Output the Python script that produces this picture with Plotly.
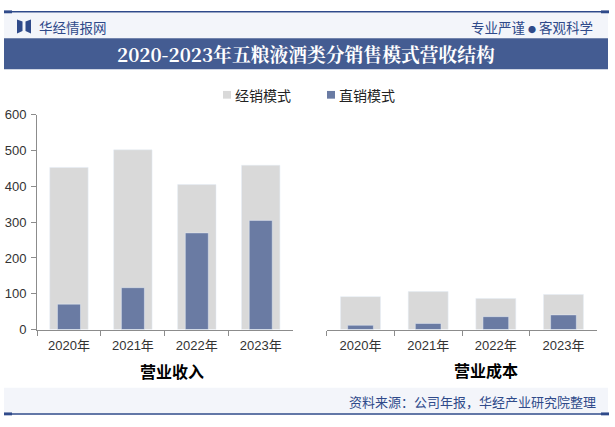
import plotly.graph_objects as go

W, H = 615, 427

years = ["2020年", "2021年", "2022年", "2023年"]
income_dist = [453, 502, 405, 459]     # 营业收入 - 经销模式
income_direct = [71, 117, 270, 305]    # 营业收入 - 直销模式
cost_dist = [92, 106, 87, 98]          # 营业成本 - 经销模式
cost_direct = [12, 17, 36, 41]         # 营业成本 - 直销模式
series_names = ["经销模式", "直销模式"]
panel_titles = ["营业收入", "营业成本"]
y_ticks = [0, 100, 200, 300, 400, 500, 600]

GRAY = "#d9d9d9"
BLUE = "#6a7ba3"
DARK = "#2f4a8a"
BAND = "#445c92"
LIGHT = "#f3f5fa"
AX = "#8c8c8c"
NUM_FONT = "Liberation Sans, Arial, Noto Sans CJK SC, sans-serif"
CJK_FONT = "Noto Sans CJK SC, Microsoft YaHei, sans-serif"


def px(x):
    return x / W


def py(y):
    return 1 - y / H


fig = go.Figure()
fig.add_trace(go.Bar(x=years, y=income_dist, name=series_names[0], marker_color=GRAY,
                     width=0.6, xaxis="x", yaxis="y", showlegend=False))
fig.add_trace(go.Bar(x=years, y=income_direct, name=series_names[1], marker_color=BLUE,
                     width=0.36, xaxis="x", yaxis="y", showlegend=False))
fig.add_trace(go.Bar(x=years, y=cost_dist, name=series_names[0], marker_color=GRAY,
                     width=0.59, xaxis="x2", yaxis="y2", showlegend=False))
fig.add_trace(go.Bar(x=years, y=cost_direct, name=series_names[1], marker_color=BLUE,
                     width=0.38, xaxis="x2", yaxis="y2", showlegend=False))

ydom = [py(334.3), py(111.7)]
xcommon = dict(type="category", showline=True, linecolor=AX, linewidth=1,
               ticks="outside", tickson="boundaries", ticklen=5, tickcolor=AX,
               tickfont=dict(family=NUM_FONT, size=13, color="#333333"),
               ticklabelstandoff=4,
               showgrid=False, zeroline=False, fixedrange=True)
fig.update_layout(
    xaxis=dict(domain=[px(37), px(292.7)], anchor="y", **xcommon),
    xaxis2=dict(domain=[px(326.7), px(597.3)], anchor="y2", **xcommon),
    yaxis=dict(domain=ydom, range=[0, 600], tickvals=y_ticks, showline=True,
               linecolor=AX, ticks="outside", ticklen=5, tickcolor=AX,
               tickfont=dict(family=NUM_FONT, size=13, color="#333333"),
               showgrid=False, zeroline=False, anchor="x", ticklabelstandoff=2,
               fixedrange=True),
    yaxis2=dict(domain=ydom, range=[0, 600], visible=False, anchor="x2", fixedrange=True),
    barmode="overlay",
    width=W, height=H, autosize=False,
    margin=dict(l=0, r=0, t=0, b=0),
    paper_bgcolor="white", plot_bgcolor="rgba(0,0,0,0)",
)

shapes = []
# header background
shapes.append(dict(type="rect", xref="paper", yref="paper", x0=px(4), x1=px(608),
                   y0=py(32), y1=py(6), fillcolor=LIGHT, line_width=0, layer="below"))
# top line + end squares
shapes.append(dict(type="line", xref="paper", yref="paper", x0=px(4), x1=px(608),
                   y0=py(5), y1=py(5), line=dict(color=DARK, width=1.5)))
for a, b in [(4, 12), (601, 609)]:
    shapes.append(dict(type="rect", xref="paper", yref="paper", x0=px(a), x1=px(b),
                       y0=py(6.5), y1=py(3.5), fillcolor=DARK, line_width=0))
# title band
shapes.append(dict(type="rect", xref="paper", yref="paper", x0=px(4), x1=px(608),
                   y0=py(64.5), y1=py(32.3), fillcolor=BAND, line_width=0, layer="below"))
# footer band
shapes.append(dict(type="rect", xref="paper", yref="paper", x0=px(4), x1=px(608),
                   y0=py(421), y1=py(394.5), fillcolor=LIGHT, line_width=0, layer="below"))
shapes.append(dict(type="line", xref="paper", yref="paper", x0=px(4), x1=px(608),
                   y0=py(421.7), y1=py(421.7), line=dict(color=DARK, width=1.5)))
for a, b in [(4, 12), (601, 609)]:
    shapes.append(dict(type="rect", xref="paper", yref="paper", x0=px(a), x1=px(b),
                       y0=py(423.2), y1=py(420.2), fillcolor=DARK, line_width=0))
# logo icon
shapes.append(dict(type="path", xref="paper", yref="paper",
                   path=f"M{px(17)},{py(13)} L{px(22.5)},{py(15)} L{px(22.5)},{py(25)} L{px(17)},{py(27.5)} Z",
                   fillcolor=DARK, line_width=0))
shapes.append(dict(type="path", xref="paper", yref="paper",
                   path=f"M{px(31)},{py(13)} L{px(25.5)},{py(15)} L{px(25.5)},{py(25)} L{px(31)},{py(27.5)} Z",
                   fillcolor=DARK, line_width=0))
# legend squares
shapes.append(dict(type="rect", xref="paper", yref="paper", x0=px(223), x1=px(231),
                   y0=py(95), y1=py(87), fillcolor=GRAY, line_width=0))
shapes.append(dict(type="rect", xref="paper", yref="paper", x0=px(327), x1=px(335),
                   y0=py(95), y1=py(87), fillcolor=BLUE, line_width=0))
fig.update_layout(shapes=shapes)

ann = []


def text(x, y, s, size, color, family=CJK_FONT, xanchor="left", bold=False):
    if bold:
        s = f"<b>{s}</b>"
    ann.append(dict(x=px(x), y=py(y), xref="paper", yref="paper", text=s, showarrow=False,
                    xanchor=xanchor, yanchor="middle",
                    font=dict(family=family, size=size, color=color)))


text(37, 20.5, "华经情报网", 13.5, DARK)
text(595, 20.5, "专业严谨 <span style='font-size:8px'>●</span> 客观科学", 13.5, DARK, xanchor="right")
text(306, 48.5, "2020-2023年五粮液酒类分销售模式营收结构", 18.8, "white",
     family="Noto Serif CJK SC, Noto Sans CJK SC, serif", xanchor="center", bold=True)
text(233, 91, series_names[0], 14, "#222222")
text(337, 91, series_names[1], 14, "#222222")
text(172, 377.5, panel_titles[0], 16, "#000000", xanchor="center", bold=True)
text(486, 376.5, panel_titles[1], 16, "#000000", xanchor="center", bold=True)
text(598, 409, "资料来源：公司年报，华经产业研究院整理", 13, DARK, xanchor="right")
fig.update_layout(annotations=ann)

fig.write_html("out.html", config={"displayModeBar": False},
               post_script="document.body.style.margin='0';document.body.style.overflow='hidden';")
